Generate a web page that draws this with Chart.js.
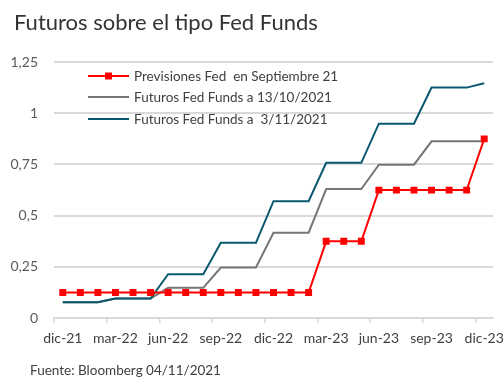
<!DOCTYPE html>
<html>
<head>
<meta charset="utf-8">
<script src="https://cdn.jsdelivr.net/npm/chart.js@4"></script>
<style>
    html, body { margin: 0; padding: 0; background: #fff; }
    #wrap { width: 504px; height: 389px; position: relative; }
</style>
</head>
<body>
<div id="wrap"><canvas id="fedChart"></canvas></div>
<script>
// monthly categories, dic-21 .. dic-23
const months = ["dic-21", "ene-22", "feb-22", "mar-22", "abr-22", "may-22", "jun-22", "jul-22", "ago-22",
    "sep-22", "oct-22", "nov-22", "dic-22", "ene-23", "feb-23", "mar-23", "abr-23", "may-23", "jun-23",
    "jul-23", "ago-23", "sep-23", "oct-23", "nov-23", "dic-23"];

const fedSep21 = [0.125, 0.125, 0.125, 0.125, 0.125, 0.125, 0.125, 0.125, 0.125, 0.125, 0.125, 0.125, 0.125,
    0.125, 0.125, 0.375, 0.375, 0.375, 0.625, 0.625, 0.625, 0.625, 0.625, 0.625, 0.875];
const futures1310 = [0.078, 0.078, 0.078, 0.096, 0.096, 0.096, 0.148, 0.148, 0.148, 0.247, 0.247, 0.247, 0.417,
    0.417, 0.417, 0.63, 0.63, 0.63, 0.749, 0.749, 0.749, 0.863, 0.863, 0.863, 0.863];
const futures0311 = [0.078, 0.078, 0.078, 0.096, 0.096, 0.096, 0.215, 0.215, 0.215, 0.368, 0.368, 0.368, 0.571,
    0.571, 0.571, 0.758, 0.758, 0.758, 0.949, 0.949, 0.949, 1.125, 1.125, 1.125, 1.146];

const seriesNames = ["Previsiones Fed  en Septiembre 21", "Futuros Fed Funds a 13/10/2021", "Futuros Fed Funds a  3/11/2021"];
const yTicks = [0, 0.25, 0.5, 0.75, 1, 1.25];

const FONT = "Lato, 'Open Sans', sans-serif";
const gridColor = "#d9d9d9";

// title, source and legend drawn straight on the canvas
const textPlugin = {
    id: "texts",
    afterDraw(chart) {
        const ctx = chart.ctx;
        ctx.save();
        ctx.textBaseline = "alphabetic";
        ctx.textAlign = "left";
        ctx.fillStyle = "#333333";
        ctx.font = "22px " + FONT;
        ctx.fillText("Futuros sobre el tipo Fed Funds", 14, 30);
        ctx.fillStyle = "#404040";
        ctx.font = "13.5px " + FONT;
        ctx.fillText("Fuente: Bloomberg 04/11/2021", 30, 375);

        // legend
        const rows = [76, 97, 119];
        chart.data.datasets.forEach((ds, i) => {
            const y = rows[i];
            ctx.strokeStyle = ds.borderColor;
            ctx.lineWidth = 2;
            ctx.beginPath();
            ctx.moveTo(88, y);
            ctx.lineTo(129, y);
            ctx.stroke();
            if (ds.pointRadius > 0) {
                ctx.fillStyle = ds.borderColor;
                ctx.fillRect(105, y - 3.5, 7, 7);
            }
            ctx.fillStyle = "#404040";
            ctx.textBaseline = "middle";
            ctx.fillText(ds.label, 134, y + 1);
        });
        ctx.restore();
    },
};

document.addEventListener("DOMContentLoaded", () => {
    const chartCtx = document.getElementById("fedChart").getContext("2d");
    new Chart(chartCtx, {
        type: "line",
        data: {
            labels: months,
            datasets: [
                {
                    label: seriesNames[0],
                    data: fedSep21,
                    borderColor: "#ff0000",
                    backgroundColor: "#ff0000",
                    borderWidth: 2,
                    pointStyle: "rect",
                    pointRadius: 3.5,
                    pointHoverRadius: 3.5,
                    order: 0,
                },
                {
                    label: seriesNames[1],
                    data: futures1310,
                    borderColor: "#767676",
                    borderWidth: 2,
                    pointRadius: 0,
                    order: 2,
                },
                {
                    label: seriesNames[2],
                    data: futures0311,
                    borderColor: "#0a5870",
                    borderWidth: 2,
                    pointRadius: 0,
                    order: 1,
                },
            ],
        },
        options: {
            responsive: true,
            maintainAspectRatio: false,
            animation: false,
            layout: { padding: { top: 62, bottom: 35, left: 0, right: 0 } },
            plugins: {
                legend: { display: false },
                tooltip: { enabled: false },
            },
            scales: {
                x: {
                    offset: true,
                    afterFit: (s) => { s.paddingRight = 11; },
                    grid: {
                        offset: true,
                        drawOnChartArea: false,
                        drawTicks: true,
                        tickLength: 5,
                        lineWidth: 1.5,
                        color: (c) => (c.index % 3 === 0 ? gridColor : "transparent"),
                        tickColor: (c) => (c.index % 3 === 0 ? gridColor : "transparent"),
                    },
                    border: { color: gridColor, width: 2 },
                    ticks: {
                        autoSkip: false,
                        maxRotation: 0,
                        padding: 7,
                        color: "#404040",
                        font: { family: FONT, size: 14 },
                        callback: (v, i) => (i % 3 === 0 ? months[i] : ""),
                    },
                },
                y: {
                    min: 0,
                    max: 1.25,
                    afterFit: (s) => { s.width = 54; },
                    afterBuildTicks: (s) => { s.ticks = yTicks.map((v) => ({ value: v })); },
                    grid: { color: gridColor, lineWidth: 2, drawTicks: false },
                    border: { display: false },
                    ticks: {
                        padding: 16,
                        color: "#595959",
                        font: { family: FONT, size: 14 },
                        callback: (v) => String(v).replace(".", ","),
                    },
                },
            },
        },
        plugins: [textPlugin],
    });
});
</script>
</body>
</html>
